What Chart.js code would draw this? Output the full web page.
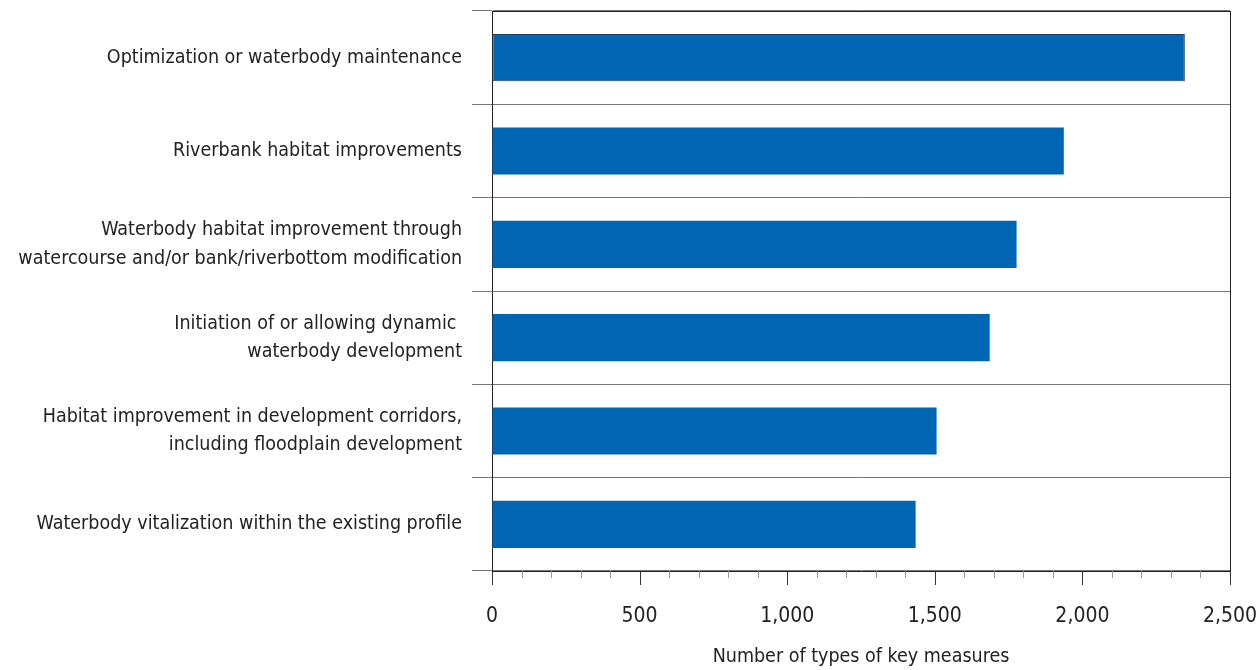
<!DOCTYPE html>
<html>
<head>
<meta charset="utf-8">
<script src="https://cdn.jsdelivr.net/npm/chart.js@4.4.1/dist/chart.umd.min.js"></script>
<style>
  html, body { margin: 0; padding: 0; background: #fff; }
  #wrap { width: 1260px; height: 670px; position: relative; }
</style>
</head>
<body>
<div id="wrap"><canvas id="c" width="1260" height="670"></canvas></div>
<script>
const categories = [
  "Optimization or waterbody maintenance",
  "Riverbank habitat improvements",
  ["Waterbody habitat improvement through", "watercourse and/or bank/riverbottom modification"],
  ["Initiation of or allowing dynamic ", "waterbody development"],
  ["Habitat improvement in development corridors,", "including floodplain development"],
  "Waterbody vitalization within the existing profile"
];
const measureCounts = [2347, 1937, 1777, 1686, 1506, 1435];
const xTickValues = [0, 500, 1000, 1500, 2000, 2500];
const xAxisTitle = "Number of types of key measures";

const FONT = "'Liberation Sans Narrow', 'DejaVu Sans Condensed', 'Roboto Condensed', 'Liberation Sans', sans-serif";

const xTickMarks = {
  id: 'xTickMarks',
  afterDraw(chart) {
    const x = chart.scales.x;
    const ctx = chart.ctx;
    const y0 = chart.chartArea.bottom;
    ctx.save();
    for (let v = x.min; v <= x.max; v += 100) {
      const px = Math.round(x.getPixelForValue(v)) + 0.5;
      const major = xTickValues.includes(v);
      ctx.beginPath();
      ctx.strokeStyle = major ? '#333' : '#999';
      ctx.lineWidth = 1;
      ctx.moveTo(px, y0);
      ctx.lineTo(px, y0 + (major ? 14 : 7));
      ctx.stroke();
    }
    ctx.restore();
  }
};

new Chart(document.getElementById('c'), {
  type: 'bar',
  data: {
    labels: categories,
    datasets: [{
      data: measureCounts,
      backgroundColor: '#0066b3',
      borderColor: ['#1d3f66', 'rgba(0,0,0,0)', 'rgba(0,0,0,0)', 'rgba(0,0,0,0)', 'rgba(0,0,0,0)', 'rgba(0,0,0,0)'],
      borderWidth: [1, 0, 0, 0, 0, 0],
      borderSkipped: false,
      barPercentage: 0.505,
      categoryPercentage: 1.0
    }]
  },
  options: {
    indexAxis: 'y',
    responsive: false,
    animation: false,
    devicePixelRatio: 1,
    layout: { padding: { top: 11, right: 30, bottom: 0, left: 0 } },
    plugins: { legend: { display: false }, tooltip: { enabled: false } },
    scales: {
      y: {
        type: 'category',
        offset: true,
        grid: {
          offset: true,
          drawOnChartArea: true,
          color: '#777',
          tickColor: '#777',
          tickLength: 20,
          lineWidth: 1
        },
        border: { display: true, color: '#222', width: 1 },
        ticks: {
          color: '#222',
          padding: 10,
          font: { family: FONT, size: 19.5, lineHeight: 1.45 },
          autoSkip: false
        },
        afterFit(scale) {
          scale.width = 492;
          scale.paddingTop = 0;
          scale.paddingBottom = 0;
        }
      },
      x: {
        type: 'linear',
        min: 0,
        max: 2500,
        grid: {
          drawOnChartArea: true,
          drawTicks: false,
          color: (c) => (c.tick && c.tick.value === 2500) ? '#222' : 'rgba(0,0,0,0)'
        },
        border: { display: true, color: '#222', width: 1 },
        afterBuildTicks(scale) {
          scale.ticks = xTickValues.map(v => ({ value: v }));
        },
        ticks: {
          color: '#222',
          padding: 33,
          maxRotation: 0,
          autoSkip: false,
          font: { family: FONT, size: 21 },
          callback: (v) => Number(v).toLocaleString('en-US')
        },
        title: {
          display: true,
          text: xAxisTitle,
          color: '#222',
          font: { family: FONT, size: 19.5 },
          padding: { top: 0, bottom: 1 }
        },
        afterFit(scale) {
          scale.height = 99;
          scale.paddingLeft = 0;
          scale.paddingRight = 0;
        }
      }
    }
  },
  plugins: [xTickMarks, {
    id: 'topBorder',
    afterDraw(chart) {
      const a = chart.chartArea;
      const ctx = chart.ctx;
      const y = chart.scales.y.getPixelForTick(0) - (chart.scales.y.getPixelForTick(1) - chart.scales.y.getPixelForTick(0)) / 2;
      ctx.save();
      ctx.strokeStyle = '#222';
      ctx.lineWidth = 1;
      ctx.beginPath();
      ctx.moveTo(a.left, Math.round(y) + 0.5);
      ctx.lineTo(a.right, Math.round(y) + 0.5);
      ctx.stroke();
      ctx.restore();
    }
  }]
});
</script>
</body>
</html>
